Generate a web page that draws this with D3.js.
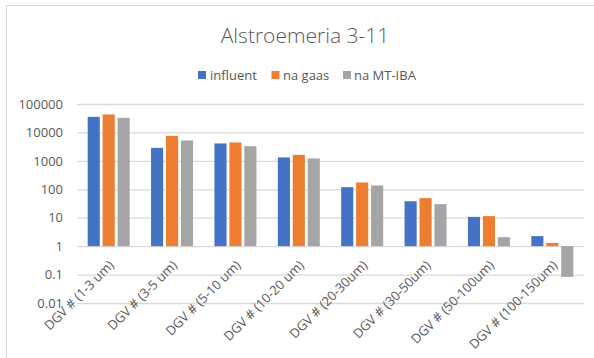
<!DOCTYPE html>
<html>
<head>
<meta charset="utf-8">
<script src="https://cdn.jsdelivr.net/npm/d3@7"></script>
<style>
  html, body { margin: 0; padding: 0; background: #fff; }
  svg { display: block; }
  text { font-family: "Open Sans", "Noto Sans", sans-serif; fill: #595959; }
</style>
</head>
<body>
<script>
// Particle counts per size class (log scale)
const categories = [
  "DGV # (1-3 um)", "DGV # (3-5 um)", "DGV # (5-10 um)", "DGV # (10-20 um)",
  "DGV # (20-30um)", "DGV # (30-50um)", "DGV # (50-100um)", "DGV # (100-150um)"
];
const seriesNames = ["influent", "na gaas", "na MT-IBA"];
const influent = [35300, 2870, 4100, 1320, 119, 38, 10.7, 2.25];
const naGaas   = [42900, 7580, 4440, 1630, 174, 49, 11.4, 1.3];
const naMtIba  = [32600, 5210, 3290, 1215, 136, 30, 2.07, 0.083];
const tickValues = [100000, 10000, 1000, 100, 10, 1, 0.1, 0.01];
const tickLabels = ["100000", "10000", "1000", "100", "10", "1", "0.1", "0.01"];
const colors = ["#4472C4", "#ED7D31", "#A5A5A5"];

const W = 594, H = 358;
const svg = d3.select("body").append("svg").attr("width", W).attr("height", H);

// chart area frame
svg.append("rect")
  .attr("x", 6.5).attr("y", 5.5).attr("width", 700).attr("height", 500)
  .attr("fill", "none").attr("stroke", "#d9d9d9").attr("stroke-width", 1);

const plot = { left: 77, right: 584, top: 104, bottom: 303 };

const y = d3.scaleLog().domain([0.01, 100000]).range([plot.bottom, plot.top]);
const x = d3.scaleBand().domain(categories).range([plot.left, plot.right]);
const inner = d3.scaleBand().domain(seriesNames).range([0, 42]).paddingInner(0.19);
const groupOffset = (x.bandwidth() - 42) / 2;

// gridlines and tick labels
const yAxis = d3.axisLeft(y).tickValues(tickValues)
  .tickFormat((d, i) => tickLabels[i])
  .tickSize(-(plot.right - plot.left)).tickPadding(14);
const gy = svg.append("g").attr("transform", `translate(${plot.left},0)`).call(yAxis);
gy.select(".domain").remove();
gy.selectAll(".tick line").attr("stroke", "#d9d9d9").attr("stroke-width", 1.3);
gy.selectAll(".tick text").attr("font-size", 13).style("fill", "#595959")
  .attr("font-family", "'Open Sans', sans-serif");

// bars grow from the value 1 baseline
const base = y(1);
const all = [influent, naGaas, naMtIba];
all.forEach((vals, si) => {
  svg.append("g").selectAll("rect")
    .data(vals)
    .join("rect")
    .attr("x", (d, i) => x(categories[i]) + groupOffset + inner(seriesNames[si]))
    .attr("width", inner.bandwidth())
    .attr("y", d => Math.min(y(d), base))
    .attr("height", d => Math.abs(base - y(d)))
    .attr("fill", colors[si]);
});

// category labels, rotated
const xAxis = d3.axisBottom(x).tickSize(0).tickPadding(0);
const gx = svg.append("g").attr("transform", `translate(0,${base})`).call(xAxis);
gx.select(".domain").remove();
gx.selectAll(".tick text")
  .attr("font-size", 13)
  .attr("font-family", "'Open Sans', sans-serif")
  .style("fill", "#595959")
  .attr("text-anchor", "end")
  .attr("dy", 0)
  .attr("transform", "translate(6,20) rotate(-45)");

// title
svg.append("text")
  .attr("x", 305).attr("y", 43)
  .attr("text-anchor", "middle")
  .attr("font-size", 21)
  .attr("font-weight", 300)
  .text("Alstroemeria 3-11");

// legend
const legendItems = [
  { name: "influent", sx: 198, tx: 210 },
  { name: "na gaas", sx: 271.5, tx: 283 },
  { name: "na MT-IBA", sx: 343, tx: 354 }
];
const lg = svg.append("g");
legendItems.forEach((it, i) => {
  lg.append("rect").attr("x", it.sx).attr("y", 71).attr("width", 8).attr("height", 8)
    .attr("fill", colors[i]);
  lg.append("text").attr("x", it.tx).attr("y", 79.5)
    .attr("font-size", 13).text(it.name);
});
</script>
</body>
</html>
